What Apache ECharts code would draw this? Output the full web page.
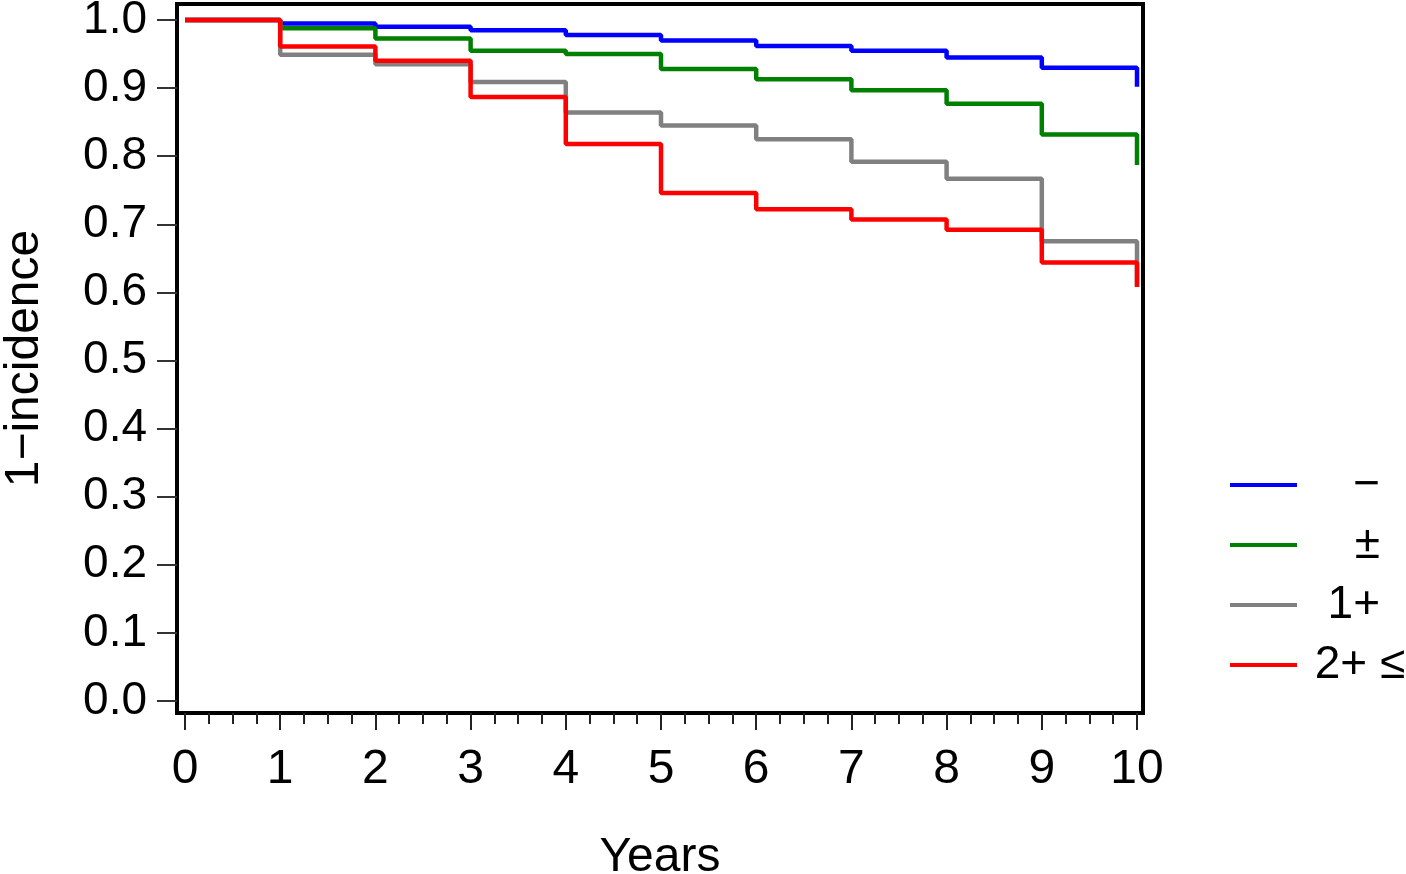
<!DOCTYPE html>
<html>
<head>
<meta charset="utf-8">
<script src="https://cdn.jsdelivr.net/npm/echarts@6/dist/echarts.min.js"></script>
<style>html,body{margin:0;padding:0;background:#fff}#c{width:1406px;height:874px}</style>
</head>
<body>
<div id="c"></div>
<script>
const years = [0, 1, 2, 3, 4, 5, 6, 7, 8, 9, 10];
const seriesNames = ['−', '±', '1+', '2+≤'];
const seriesColors = ['#0000ff', '#008000', '#808080', '#ff0000'];
const negValues   = [1.0, 0.995, 0.990, 0.985, 0.978, 0.970, 0.962, 0.955, 0.945, 0.930, 0.902];
const pmValues    = [1.0, 0.988, 0.973, 0.955, 0.950, 0.928, 0.913, 0.897, 0.877, 0.832, 0.787];
const onePlus     = [1.0, 0.949, 0.935, 0.909, 0.864, 0.845, 0.825, 0.792, 0.767, 0.675, 0.609];
const twoPlus     = [1.0, 0.961, 0.940, 0.887, 0.818, 0.746, 0.722, 0.707, 0.692, 0.644, 0.608];
const xTicks = [0, 1, 2, 3, 4, 5, 6, 7, 8, 9, 10];
const xMinorTicks = [0.25, 0.5, 0.75, 1.25, 1.5, 1.75, 2.25, 2.5, 2.75, 3.25, 3.5, 3.75, 4.25, 4.5, 4.75,
  5.25, 5.5, 5.75, 6.25, 6.5, 6.75, 7.25, 7.5, 7.75, 8.25, 8.5, 8.75, 9.25, 9.5, 9.75];
const yTicks = [0.0, 0.1, 0.2, 0.3, 0.4, 0.5, 0.6, 0.7, 0.8, 0.9, 1.0];

const allValues = [negValues, pmValues, onePlus, twoPlus];
const chart = echarts.init(document.getElementById('c'));
const series = allValues.map((vals, i) => ({
  name: seriesNames[i],
  type: 'line',
  step: 'end',
  symbol: 'none',
  showSymbol: false,
  data: years.map((x, j) => [x, vals[j]]),
  lineStyle: { color: seriesColors[i], width: 4.5 },
  itemStyle: { color: seriesColors[i] },
  z: 2 + i
}));

const labelFont = 'Liberation Sans';
const xMin = -0.084, xMax = 10.063, yMin = -0.0176, yMax = 1.0235;
chart.setOption({
  animation: false,
  backgroundColor: '#fff',
  grid: {
    left: 177, right: 263, top: 4, bottom: 161, containLabel: false, outerBoundsMode: 'none',
    show: true, borderColor: '#000', borderWidth: 4, backgroundColor: 'transparent'
  },
  xAxis: [{
    type: 'value', min: xMin, max: xMax,
    name: 'Years', nameLocation: 'middle', nameGap: 121,
    nameTextStyle: { fontFamily: labelFont, fontSize: 48, color: '#000' },
    axisLine: { show: true, onZero: false, lineStyle: { color: '#000', width: 4 } },
    axisTick: { show: true, inside: false, length: 17, customValues: xTicks, lineStyle: { color: '#222', width: 2 } },
    splitLine: { show: false },
    axisLabel: { margin: 33, customValues: xTicks, fontFamily: labelFont, fontSize: 48, color: '#000',
      formatter: v => String(Math.round(v)) }
  }, {
    type: 'value', min: xMin, max: xMax, position: 'bottom',
    axisLine: { show: false, onZero: false },
    axisTick: { show: true, inside: false, length: 11, customValues: xMinorTicks, lineStyle: { color: '#222', width: 2 } },
    axisLabel: { show: false },
    splitLine: { show: false }
  }],
  yAxis: {
    type: 'value', min: yMin, max: yMax,
    name: '1−incidence', nameLocation: 'middle', nameGap: 128, nameRotate: 90,
    nameTextStyle: { fontFamily: labelFont, fontSize: 48, color: '#000' },
    axisLine: { show: true, onZero: false, lineStyle: { color: '#000', width: 4 } },
    axisTick: { show: true, inside: false, length: 20, customValues: yTicks, lineStyle: { color: '#333', width: 2 } },
    splitLine: { show: false },
    axisLabel: {
      margin: 30, customValues: yTicks, fontFamily: labelFont, fontSize: 46, color: '#000',
      formatter: v => v.toFixed(1)
    }
  },
  legend: {
    orient: 'vertical', left: 1225, top: 457,
    icon: 'rect', itemWidth: 67, itemHeight: 4, itemGap: 14,
    data: seriesNames,
    formatter: n => n === '2+≤' ? '{a|2+}{c|≤}' : '{a|' + n + '}',
    textStyle: {
      color: '#000',
      rich: {
        a: { width: 78, align: 'right', lineHeight: 52, fontFamily: labelFont, fontSize: 46, color: '#000' },
        c: { lineHeight: 52, fontFamily: labelFont, fontSize: 46, color: '#000' }
      }
    }
  },
  series: series
});
</script>
</body>
</html>
